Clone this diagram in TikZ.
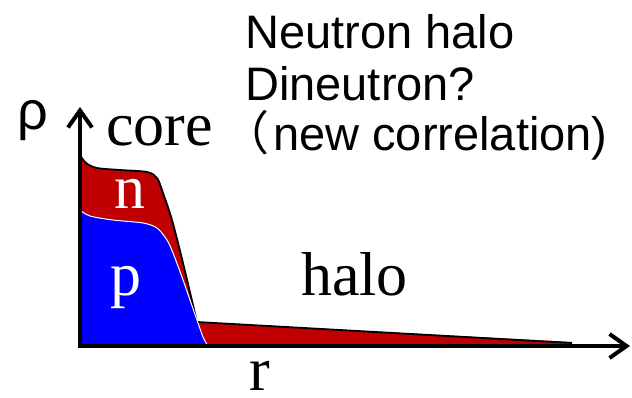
\documentclass[tikz,border=0pt]{standalone}
\usepackage{fontspec}
\setmainfont{Liberation Serif}
\setsansfont{Liberation Sans}
\newfontfamily\cjk{Noto Sans CJK JP}
\usetikzlibrary{arrows.meta}
\definecolor{nred}{RGB}{192,0,0}
\definecolor{pblue}{RGB}{0,0,255}
\begin{document}
\begin{tikzpicture}[x=1pt,y=-1pt,
  axis/.style={line width=4pt, -{Straight Barb[length=17pt,width=24pt]}},
  serif/.style={font=\fontsize{62}{62}\selectfont, inner sep=0pt, anchor=base west},
  sans/.style={font=\sffamily\fontsize{47}{47}\selectfont, inner sep=0pt, anchor=base west},
]
\useasboundingbox (0,0) rectangle (632,397);
% neutron (red) area
\fill[nred] plot[smooth,tension=0.5] coordinates {(80,155) (86,163) (97,168) (120,170) (147,172) (157,178) (163,193) (172,220) (183,263) (197,322)} -- (572,342) -- (572,346) -- (80,346) -- cycle;
\draw[line width=1.8pt] plot[smooth,tension=0.5] coordinates {(80,155) (86,163) (97,168) (120,170) (147,172) (157,178) (163,193) (172,220) (183,263) (197,322)} -- (572,343);
% proton (blue) area
\fill[pblue] plot[smooth,tension=0.5] coordinates {(80,210) (90,216) (113,220) (143,223) (157,228) (167,240) (173,253) (182,277) (190,300) (197,320) (203,337) (208,346)} -- (80,346) -- cycle;
\draw[white, line width=1pt] plot[smooth,tension=0.5] coordinates {(80,210) (90,216) (113,220) (143,223) (157,228) (167,240) (173,253) (182,277) (190,300) (197,320) (203,337) (208,346)};
% axes
\coordinate (o) at (80,346);
\coordinate (ytip) at (80,107);
\coordinate (xtip) at (630,346);
\coordinate (ostart) at (78,346);
\coordinate (ybot) at (80,348);
\draw[axis] (ybot) -- (ytip);
\draw[axis] (ostart) -- (xtip);
% labels
\node[font=\sffamily\fontsize{54}{54}\selectfont, inner sep=0pt, anchor=base west] (rho) at (17,129) {ρ};
\node[serif] (core) at (106,145) {core};
\node[serif, text=white, anchor=base] (n) at (130,208) {n};
\node[serif, text=white, anchor=base] (p) at (126,295) {p};
\node[serif] (halo) at (301,295) {halo};
\node[serif, text depth=0pt] (r) at (249,390) {r};
\node[sans] (l1) at (245,48) {Neutron halo};
\node[sans] (l2) at (245,100) {Dineutron?};
\node[sans] (l3) at (222,150) {{\cjk （}\hspace{4pt}new correlation)};
\end{tikzpicture}
\end{document}
